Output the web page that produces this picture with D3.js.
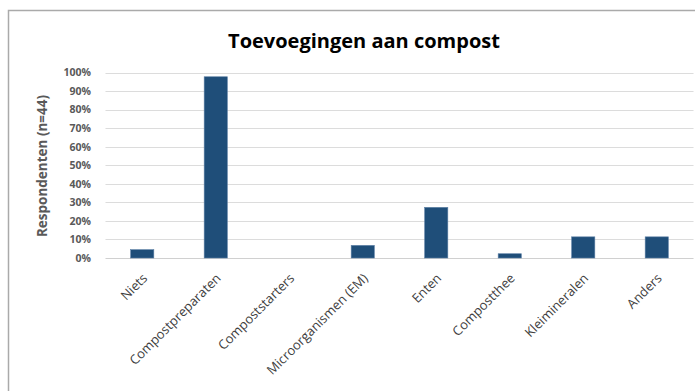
<!DOCTYPE html>
<html>
<head>
<meta charset="utf-8">
<script src="https://cdn.jsdelivr.net/npm/d3@7"></script>
<style>
  html, body { margin: 0; padding: 0; background: #fff; }
  svg { display: block; }
</style>
</head>
<body>
<svg id="chart" width="695" height="391"></svg>
<script>
// Additions to compost, share of respondents (n=44), in percent
const categories = ["Niets", "Compostpreparaten", "Compoststarters", "Microorganismen (EM)",
                    "Enten", "Compostthee", "Kleimineralen", "Anders"];
const values = [4.5, 97.7, 0, 6.8, 27.3, 2.3, 11.4, 11.4];
const yTicks = [0, 10, 20, 30, 40, 50, 60, 70, 80, 90, 100];
const titleText = "Toevoegingen aan compost";
const yTitle = "Respondenten (n=44)";

const svg = d3.select("#chart");
const W = 695, H = 391;
const margin = { left: 105.5, right: 1.5, top: 72.5, bottom: 133 };

// outer frame (left and top edges visible)
svg.append("path")
  .attr("d", `M8.5,${H} V10.5 H${W}`)
  .attr("fill", "none")
  .attr("stroke", "#aaaaaa")
  .attr("stroke-width", 1.5);

const x = d3.scaleBand()
  .domain(categories)
  .range([margin.left, W - margin.right])
  .paddingInner(0.685)
  .paddingOuter(0.3425);

const y = d3.scaleLinear()
  .domain([0, 100])
  .range([H - margin.bottom, margin.top]);

// gridlines
svg.append("g")
  .selectAll("line")
  .data(yTicks)
  .join("line")
  .attr("x1", margin.left)
  .attr("x2", W - margin.right)
  .attr("y1", d => Math.round(y(d)) + 0.5)
  .attr("y2", d => Math.round(y(d)) + 0.5)
  .attr("stroke", d => d === 0 ? "#d0d0d0" : "#dcdcdc")
  .attr("stroke-width", 1.2);

// y axis labels
const yAxis = d3.axisLeft(y)
  .tickValues(yTicks)
  .tickFormat(d => d + "%")
  .tickSize(0)
  .tickPadding(0);
const gy = svg.append("g")
  .attr("transform", `translate(91,0)`)
  .call(yAxis);
gy.select(".domain").remove();
gy.selectAll("text")
  .attr("font-family", "'Open Sans', sans-serif")
  .attr("font-weight", "bold")
  .attr("font-size", "10.5px")
  .attr("fill", "#595959");

// bars
svg.append("g")
  .selectAll("rect")
  .data(values)
  .join("rect")
  .attr("x", (d, i) => x(categories[i]))
  .attr("width", x.bandwidth())
  .attr("y", d => y(d))
  .attr("height", d => y(0) - y(d))
  .attr("fill", "#1f4e79")
  .attr("stroke", "#5b7fa5")
  .attr("stroke-width", 0.6);

// x axis labels, rotated
const gx = svg.append("g")
  .attr("transform", `translate(0,${y(0)})`)
  .call(d3.axisBottom(x).tickSize(0).tickPadding(0));
gx.select(".domain").remove();
gx.selectAll("text")
  .attr("font-family", "'Open Sans', sans-serif")
  .attr("font-size", "13px")
  .attr("fill", "#404040")
  .attr("text-anchor", "end")
  .attr("dy", null)
  .attr("transform", "translate(6,21) rotate(-45)");

// title
svg.append("text")
  .attr("x", 364)
  .attr("y", 48)
  .attr("text-anchor", "middle")
  .attr("font-family", "'Open Sans', sans-serif")
  .attr("font-weight", "bold")
  .attr("font-size", "20px")
  .attr("fill", "#000")
  .text(titleText);

// y axis title
svg.append("text")
  .attr("transform", `translate(47,166) rotate(-90)`)
  .attr("text-anchor", "middle")
  .attr("font-family", "'Open Sans', sans-serif")
  .attr("font-weight", "bold")
  .attr("font-size", "13.5px")
  .attr("fill", "#595959")
  .text(yTitle);
</script>
</body>
</html>
